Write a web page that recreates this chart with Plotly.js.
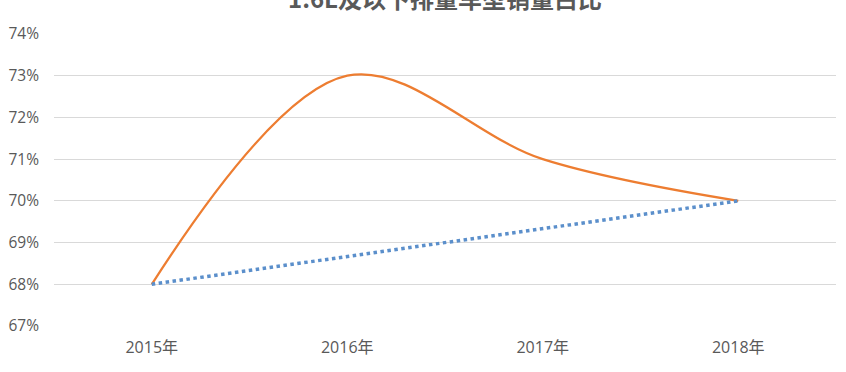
<!DOCTYPE html>
<html><head><meta charset="utf-8">
<script src="https://cdn.plot.ly/plotly-3.0.1.min.js"></script>
<style>html,body{margin:0;padding:0;background:#fff;}#chart{width:846px;height:372px;}</style>
</head><body><div id="chart"></div>
<script>
const categories = ['2015年', '2016年', '2017年', '2018年'];
const shareValues = [0.68, 0.73, 0.71, 0.70];
const trendValues = [0.68, 0.6867, 0.6933, 0.70];
const seriesNames = ['1.6L及以下排量车型销量占比', '线性 (1.6L及以下排量车型销量占比)'];
const titleText = '1.6L及以下排量车型销量占比';

const font = '"Open Sans", "Noto Sans CJK SC", sans-serif';
const traces = [
  {x: categories, y: shareValues, name: seriesNames[0], type: 'scatter', mode: 'lines',
   line: {color: '#ED7D31', width: 2.25, shape: 'spline', smoothing: 1}},
  {x: categories, y: trendValues, name: seriesNames[1], type: 'scatter', mode: 'lines',
   line: {color: '#5B8FCB', width: 3.5, dash: 'dot'}}
];
const layout = {
  width: 846, height: 372,
  margin: {l: 54, r: 10, t: 34, b: 46},
  paper_bgcolor: '#fff', plot_bgcolor: '#fff',
  font: {family: font, color: '#595959', size: 15},
  title: {text: '<b>' + titleText + '</b>', x: 0.5, xref: 'paper', y: 1, yref: 'container', yanchor: 'middle',
          font: {family: '"Noto Sans CJK SC", sans-serif', size: 24, color: '#595959'}},
  xaxis: {type: 'category', range: [-0.5, 3.5], showgrid: false, zeroline: false, showline: false,
          ticks: '', ticklabelstandoff: 10, tickfont: {size: 16, color: '#595959'}},
  yaxis: {range: [0.67, 0.74], dtick: 0.01, tickformat: '.0%', showgrid: true, gridcolor: '#D9D9D9', gridwidth: 1,
          zeroline: false, showline: false, ticks: '', ticklabelstandoff: 14, tickfont: {size: 15.5, color: '#595959'}},
  showlegend: true,
  legend: {orientation: 'h', x: 0.5, xanchor: 'center', xref: 'paper', y: 0.012, yref: 'container', yanchor: 'top',
           font: {size: 12, color: '#595959'}}
};
Plotly.newPlot('chart', traces, layout, {displayModeBar: false, staticPlot: true});
</script></body></html>
